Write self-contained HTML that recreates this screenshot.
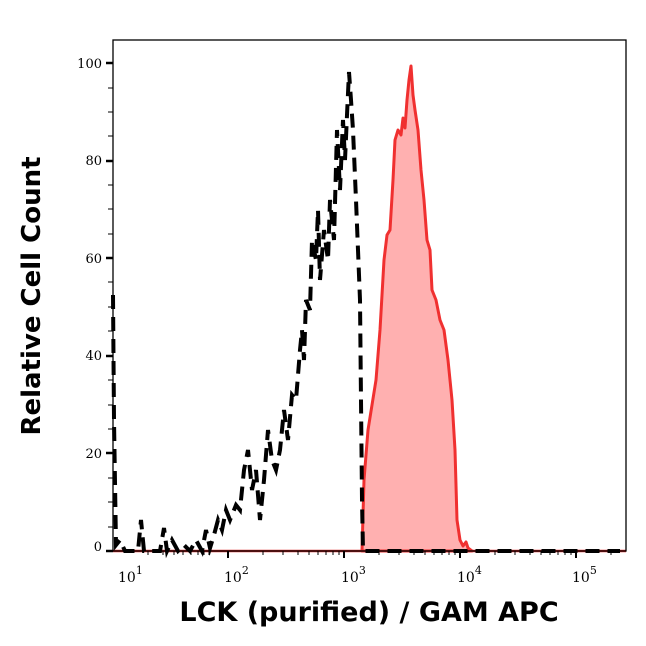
<!DOCTYPE html>
<html><head><style>body{margin:0;background:#fff}</style></head><body>
<svg width="646" height="641" xmlns="http://www.w3.org/2000/svg" font-family="DejaVu Serif, serif">
<rect width="646" height="641" fill="#fff"/>
<path d="M362,551 L364,480 L368,430 L372,405 L376,380 L380,330 L384,260 L387,235 L390,230 L393,180 L395,140 L398,130 L401,135 L403,118 L405,128 L407,100 L409,80 L411,66 L413,95 L415,110 L418,130 L421,170 L424,200 L427,240 L430,250 L432,290 L436,300 L440,320 L444,330 L448,360 L452,400 L455,450 L457,520 L460,540 L463,546 L466,542 L468,548 L472,551 Z" fill="#ffb0b0" stroke="#f03030" stroke-width="3" stroke-linejoin="round"/>
<line x1="113" y1="551" x2="626" y2="551" stroke="#e03030" stroke-width="2.5"/>
<polyline fill="none" stroke="#000" stroke-width="4" stroke-dasharray="14,8" points="113,295 114,420 116,545 120,540 125,551 130,551 138,551 141,520 144,551 150,551 160,551 164,528 167,551 172,540 178,551 184,545 190,551 196,540 202,551 206,530 210,548 214,535 218,520 222,530 226,510 230,520 236,505 240,510 244,470 248,450 252,490 256,470 260,520 264,480 268,430 272,460 276,470 280,450 284,410 288,440 292,395 296,400 300,350 302,330 304,360 306,300 310,310 312,240 316,260 318,210 320,280 324,230 328,260 330,200 334,240 337,130 340,190 343,120 345,160 347,115 349,72 351,100 353,130 356,200 358,250 360,300 361,400 362,500 363,551 370,551 420,551 480,551 560,551 620,551"/>
<rect x="113" y="40" width="513" height="511" fill="none" stroke="#000" stroke-width="1.3"/>
<g stroke="#000" stroke-width="2.5">
<line x1="106" y1="551" x2="113" y2="551"/><line x1="106" y1="453" x2="113" y2="453"/><line x1="106" y1="356" x2="113" y2="356"/><line x1="106" y1="258" x2="113" y2="258"/><line x1="106" y1="161" x2="113" y2="161"/><line x1="106" y1="63" x2="113" y2="63"/>
</g>
<g stroke="#000" stroke-width="1"><line x1="108" y1="527" x2="113" y2="527"/><line x1="108" y1="502" x2="113" y2="502"/><line x1="108" y1="478" x2="113" y2="478"/><line x1="108" y1="429" x2="113" y2="429"/><line x1="108" y1="405" x2="113" y2="405"/><line x1="108" y1="380" x2="113" y2="380"/><line x1="108" y1="331" x2="113" y2="331"/><line x1="108" y1="307" x2="113" y2="307"/><line x1="108" y1="282" x2="113" y2="282"/><line x1="108" y1="234" x2="113" y2="234"/><line x1="108" y1="209" x2="113" y2="209"/><line x1="108" y1="185" x2="113" y2="185"/><line x1="108" y1="136" x2="113" y2="136"/><line x1="108" y1="112" x2="113" y2="112"/><line x1="108" y1="88" x2="113" y2="88"/></g>
<g font-size="13" text-anchor="end"><text x="102" y="551">0</text><text x="102" y="458">20</text><text x="102" y="360">40</text><text x="102" y="263">60</text><text x="102" y="165">80</text><text x="102" y="68">100</text></g>
<g stroke="#000" stroke-width="2"><line x1="228" y1="551" x2="228" y2="558"/><line x1="344" y1="551" x2="344" y2="558"/><line x1="460" y1="551" x2="460" y2="558"/><line x1="576" y1="551" x2="576" y2="558"/></g>
<g stroke="#000" stroke-width="1">
<line x1="148" y1="551" x2="148" y2="555"/><line x1="163" y1="551" x2="163" y2="555"/><line x1="174" y1="551" x2="174" y2="555"/><line x1="183" y1="551" x2="183" y2="555"/><line x1="191" y1="551" x2="191" y2="555"/><line x1="198" y1="551" x2="198" y2="555"/><line x1="204" y1="551" x2="204" y2="555"/><line x1="209" y1="551" x2="209" y2="555"/>
<line x1="263" y1="551" x2="263" y2="555"/><line x1="283" y1="551" x2="283" y2="555"/><line x1="298" y1="551" x2="298" y2="555"/><line x1="309" y1="551" x2="309" y2="555"/><line x1="318" y1="551" x2="318" y2="555"/><line x1="326" y1="551" x2="326" y2="555"/><line x1="333" y1="551" x2="333" y2="555"/><line x1="339" y1="551" x2="339" y2="555"/>
<line x1="379" y1="551" x2="379" y2="555"/><line x1="399" y1="551" x2="399" y2="555"/><line x1="414" y1="551" x2="414" y2="555"/><line x1="425" y1="551" x2="425" y2="555"/><line x1="434" y1="551" x2="434" y2="555"/><line x1="442" y1="551" x2="442" y2="555"/><line x1="449" y1="551" x2="449" y2="555"/><line x1="455" y1="551" x2="455" y2="555"/>
<line x1="495" y1="551" x2="495" y2="555"/><line x1="515" y1="551" x2="515" y2="555"/><line x1="530" y1="551" x2="530" y2="555"/><line x1="541" y1="551" x2="541" y2="555"/><line x1="550" y1="551" x2="550" y2="555"/><line x1="558" y1="551" x2="558" y2="555"/><line x1="565" y1="551" x2="565" y2="555"/><line x1="571" y1="551" x2="571" y2="555"/>
<line x1="611" y1="551" x2="611" y2="555"/></g>
<g font-size="14"><text x="118" y="582">10<tspan font-size="11" dy="-8">1</tspan></text><text x="224" y="582">10<tspan font-size="11" dy="-8">2</tspan></text><text x="341" y="582">10<tspan font-size="11" dy="-8">3</tspan></text><text x="457" y="582">10<tspan font-size="11" dy="-8">4</tspan></text><text x="572" y="582">10<tspan font-size="11" dy="-8">5</tspan></text></g>
<text x="369" y="621" text-anchor="middle" font-family="DejaVu Sans, sans-serif" font-weight="bold" font-size="27">LCK (purified) / GAM APC</text>
<text transform="translate(40,296) rotate(-90)" text-anchor="middle" font-family="DejaVu Sans, sans-serif" font-weight="bold" font-size="26">Relative Cell Count</text>
</svg>
</body></html>
